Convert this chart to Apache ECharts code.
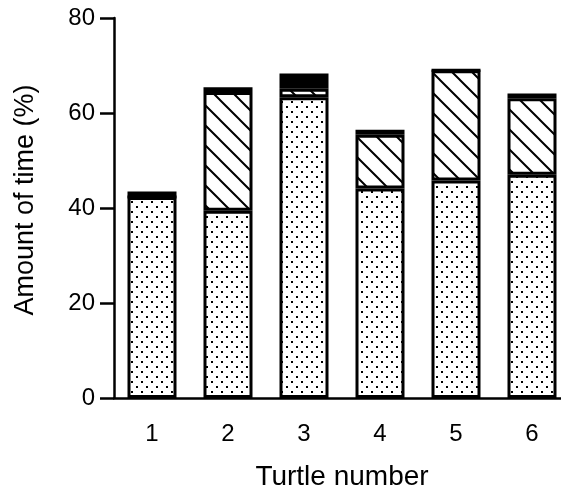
<!DOCTYPE html>
<html>
<head>
<meta charset="utf-8">
<script src="https://cdn.jsdelivr.net/npm/echarts@6/dist/echarts.min.js"></script>
<style>html,body{margin:0;padding:0;background:#fff}#c{width:561px;height:490px}</style>
</head>
<body>
<div id="c"></div>
<script>
const categories = ['1', '2', '3', '4', '5', '6'];
const dottedValues = [42.3, 39.4, 63.3, 44.1, 45.8, 47.0];
const hatchedValues = [0, 25.0, 1.8, 11.3, 23.2, 16.1];
const blackValues = [1.2, 1.0, 3.2, 1.1, 0, 1.0];
const yTicks = { min: 0, max: 80, interval: 20 };

function dotTile() {
  const c = document.createElement('canvas');
  c.width = 10; c.height = 10;
  const g = c.getContext('2d');
  g.fillStyle = '#fff'; g.fillRect(0, 0, 10, 10);
  g.fillStyle = '#000';
  g.fillRect(1, 1, 2, 2);
  g.fillRect(6, 6, 2, 2);
  return c;
}
function hatchTile() {
  const s = 20;
  const c = document.createElement('canvas');
  c.width = s; c.height = s;
  const g = c.getContext('2d');
  g.fillStyle = '#fff'; g.fillRect(0, 0, s, s);
  g.strokeStyle = '#000'; g.lineWidth = 2;
  g.beginPath();
  g.moveTo(-2, -2); g.lineTo(s + 2, s + 2);
  g.moveTo(-2, s - 2); g.lineTo(2, s + 2);
  g.moveTo(s - 2, -2); g.lineTo(s + 2, 2);
  g.stroke();
  return c;
}

const chart = echarts.init(document.getElementById('c'), null, { renderer: 'canvas' });
const font = 'Liberation Sans, Arial, Helvetica, sans-serif';
const barStyle = (fill) => ({ color: fill, borderColor: '#000', borderWidth: 3 });

chart.setOption({
  animation: false,
  backgroundColor: '#fff',
  grid: { left: 114, top: 18, width: 456, bottom: 92, containLabel: false, outerBoundsMode: 'none' },
  xAxis: {
    type: 'category',
    data: categories,
    name: 'Turtle number',
    nameLocation: 'middle',
    nameGap: 65,
    nameTextStyle: { color: '#000', fontSize: 28, fontFamily: font },
    axisLine: { lineStyle: { color: '#000', width: 2.5 } },
    axisTick: { alignWithLabel: true, length: 14, lineStyle: { color: '#000', width: 2.5 } },
    axisLabel: { color: '#000', fontSize: 24, fontFamily: font, margin: 24 },
    splitLine: { show: false }
  },
  yAxis: {
    type: 'value',
    min: yTicks.min, max: yTicks.max, interval: yTicks.interval,
    name: 'Amount of time (%)',
    nameLocation: 'middle',
    nameGap: 75,
    nameTextStyle: { color: '#000', fontSize: 27, fontFamily: font, padding: [0, 0, 0, 16] },
    axisLine: { show: true, lineStyle: { color: '#000', width: 2.5 } },
    axisTick: { show: true, length: 14, lineStyle: { color: '#000', width: 2.5 } },
    axisLabel: { color: '#000', fontSize: 24, fontFamily: font, margin: 19 },
    splitLine: { show: false }
  },
  series: [
    { name: 'dotted', type: 'bar', stack: 'a', barWidth: 49, data: dottedValues,
      itemStyle: barStyle({ image: dotTile(), repeat: 'repeat' }) },
    { name: 'hatched', type: 'bar', stack: 'a', barWidth: 49, data: hatchedValues,
      itemStyle: barStyle({ image: hatchTile(), repeat: 'repeat' }) },
    { name: 'black', type: 'bar', stack: 'a', barWidth: 49, data: blackValues,
      itemStyle: barStyle('#000') }
  ]
});
</script>
</body>
</html>
